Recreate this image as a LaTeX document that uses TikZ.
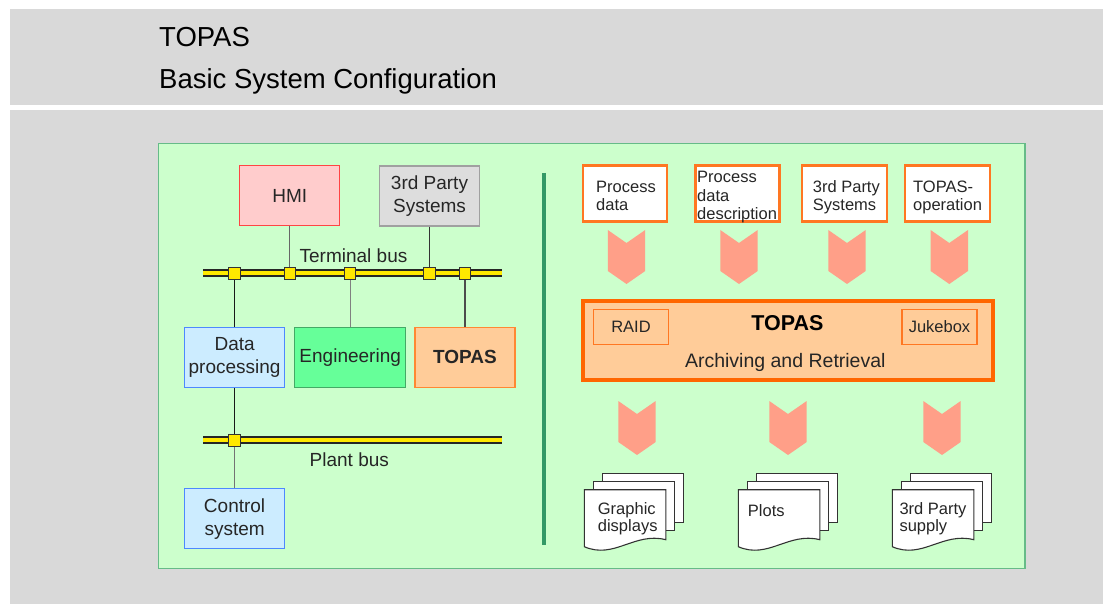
\documentclass[tikz,border=0pt]{standalone}
\usepackage{fontspec}
\setmainfont{Liberation Sans}
\newcommand\fsz[2]{\fontsize{#1}{#2}\selectfont}
\definecolor{bggray}{HTML}{D9D9D9}
\definecolor{panelfill}{HTML}{CCFFCC}
\definecolor{panelline}{HTML}{66BB88}
\definecolor{divgreen}{HTML}{339966}
\definecolor{txt}{HTML}{262626}
\definecolor{hmifill}{HTML}{FFCCCC}
\definecolor{hmiline}{HTML}{FF4444}
\definecolor{tpfill}{HTML}{DDDDDD}
\definecolor{tpline}{HTML}{A0A0A0}
\definecolor{dpfill}{HTML}{CCECFF}
\definecolor{dpline}{HTML}{4D88FF}
\definecolor{engfill}{HTML}{66FF99}
\definecolor{engline}{HTML}{44AA66}
\definecolor{topfill}{HTML}{FFCC99}
\definecolor{topline}{HTML}{FF8833}
\definecolor{busyellow}{HTML}{FFE800}
\definecolor{boxorange}{HTML}{FF7722}
\definecolor{mainorange}{HTML}{FF6600}
\definecolor{chevc}{HTML}{FF9F88}
\begin{document}
\begin{tikzpicture}[x=1pt,y=-1pt,
  every node/.style={text=txt},
  lbox/.style={draw, line width=1.3, minimum width=100, minimum height=60, inner sep=0, align=center, font=\fsz{19}{23}},
  rbox/.style={draw=boxorange, fill=white, line width=2.1, minimum width=84, minimum height=56, inner sep=0},
  rtext/.style={anchor=base west, align=left, inner sep=0, font=\fsz{16.5}{18.7}},
  dtext/.style={anchor=base west, align=left, inner sep=0, font=\fsz{16.5}{17}},
  ibox/.style={draw=boxorange, line width=1.4, minimum width=75, minimum height=35, inner sep=0, font=\fsz{16.5}{19}},
  sq/.style={draw=black!80, fill=busyellow, minimum size=11.5, inner sep=0, line width=1},
  conn/.style={line width=1.3},
  busout/.style={line width=8, black!85},
  busin/.style={line width=4.2, busyellow},
  docl/.style={draw=black!80, fill=white, line width=1.1},
  chev/.pic={\fill[chevc] (-18.7,0) -- (0,13) -- (18.7,0) -- (18.7,41) -- (0,54) -- (-18.7,41) -- cycle;},
  docstack/.pic={
    \draw[docl] (18,-16) rectangle ++(81.5,49);
    \draw[docl] (9,-8) rectangle ++(81.5,49);
    \draw[docl] (0,0) -- (81.5,0) -- (81.5,50) .. controls (50,42) and (30,70) .. (0,57) -- cycle;}
]
\useasboundingbox (0,0) rectangle (1103,604);
\fill[white] (0,0) rectangle (1103,604);
\fill[bggray] (10,9) rectangle (1103,105);
\fill[bggray] (10,110.5) rectangle (1103,604);

% title
\node[anchor=base west, inner sep=0, font=\fsz{27.5}{33}, text=black] (title1) at (159,47) {TOPAS};
\node[anchor=base west, inner sep=0, font=\fsz{27.5}{33}, text=black] (title2) at (159,89) {Basic System Configuration};

% panel
\draw[fill=panelfill, draw=panelline, line width=1.6] (158.5,143.5) rectangle (1025,568.5);
\coordinate (dtop) at (544,173);
\coordinate (dbot) at (544,545);
\draw[line width=4.5, divgreen] (dtop) -- (dbot);

% left side boxes
\node[lbox, draw=hmiline, fill=hmifill] (hmi) at (289.8,195.5) {HMI};
\node[lbox, draw=tpline, fill=tpfill] (tps) at (429.5,196) {3rd Party\\Systems};
\node[lbox, draw=dpline, fill=dpfill] (dp) at (234.6,357.3) {Data\\processing};
\node[lbox, draw=engline, fill=engfill, minimum width=111] (eng) at (350.2,357.3) {Engineering};
\node[lbox, draw=topline, fill=topfill, font=\bfseries\fsz{19}{23}] (tpl) at (465,357.3) {TOPAS};
\node[lbox, draw=dpline, fill=dpfill] (cs) at (234.6,518.7) {Control\\system};

% bus coordinates
\coordinate (tbl) at (203,273.3);
\coordinate (tbr) at (502,273.3);
\coordinate (t1) at (234.6,273.3);
\coordinate (t2) at (289.8,273.3);
\coordinate (t3) at (350.2,273.3);
\coordinate (t4) at (429.5,273.3);
\coordinate (t5) at (465,273.3);
\coordinate (pbl) at (203,440);
\coordinate (pbr) at (502,440);
\coordinate (p1) at (234.6,440.5);

% connectors
\draw[conn, black!60] (hmi.south) -- (t2);
\draw[conn, black!80] (tps.south) -- (t4);
\draw[conn, black!90] (dp.north) -- (t1);
\draw[conn, black!50] (eng.north) -- (t3);
\draw[conn, black!70] (tpl.north) -- (t5);
\draw[conn, black!90] (dp.south) -- (p1);
\draw[conn, black!55] (p1) -- (cs.north);

% buses
\draw[busout] (tbl) -- (tbr);
\draw[busin] (tbl) -- (tbr);
\draw[busout] (pbl) -- (pbr);
\draw[busin] (pbl) -- (pbr);
\foreach \c/\n in {t1/s1,t2/s2,t3/s3,t4/s4,t5/s5,p1/s6} {\node[sq] (\n) at (\c) {};}

\node[anchor=base, inner sep=0, font=\fsz{19}{23}] (tblabel) at (353.5,262.5) {Terminal bus};
\node[anchor=base, inner sep=0, font=\fsz{19}{23}] (pblabel) at (349.3,466) {Plant bus};

% right: inputs
\node[rbox] (in1) at (624.8,193.5) {};
\node[rbox] (in2) at (737.5,193.5) {};
\node[rbox, minimum width=85] (in3) at (844.7,193.5) {};
\node[rbox, minimum width=85] (in4) at (947.5,193.5) {};
\node[rtext] (in1t) at (596,210.7) {Process\\data};
\node[rtext, font=\fsz{16.5}{18.5}] (in2t) at (697,220) {Process\\data\\description};
\node[rtext] (in3t) at (812.7,211) {3rd Party\\Systems};
\node[rtext] (in4t) at (913,211) {TOPAS-\\operation};

% top chevrons
\foreach \x in {626.5,739,847,949.3} {\pic at (\x,230) {chev};}

% main box
\node[draw=mainorange, fill=topfill, line width=4, minimum width=410, minimum height=79, inner sep=0] (main) at (788,340.5) {};
\node[ibox] (raid) at (631,327) {RAID};
\node[ibox] (juke) at (939.5,327) {Jukebox};
\node[anchor=base, inner sep=0, font=\bfseries\fsz{21.5}{25}, text=black] (maint) at (787.5,330.7) {TOPAS};
\node[anchor=base, inner sep=0, font=\fsz{19.5}{23}] (mainsub) at (785.3,367.3) {Archiving and Retrieval};

% bottom chevrons
\foreach \x in {637,788,942} {\pic at (\x,401) {chev};}

% outputs
\pic at (584.3,489.7) {docstack};
\pic at (738.3,489.7) {docstack};
\pic at (892.3,489.7) {docstack};
\node[dtext] (o1) at (597.7,531.7) {Graphic\\displays};
\node[dtext] (o2) at (747.7,516) {Plots};
\node[dtext] (o3) at (899.3,531.7) {3rd Party\\supply};
\end{tikzpicture}
\end{document}
